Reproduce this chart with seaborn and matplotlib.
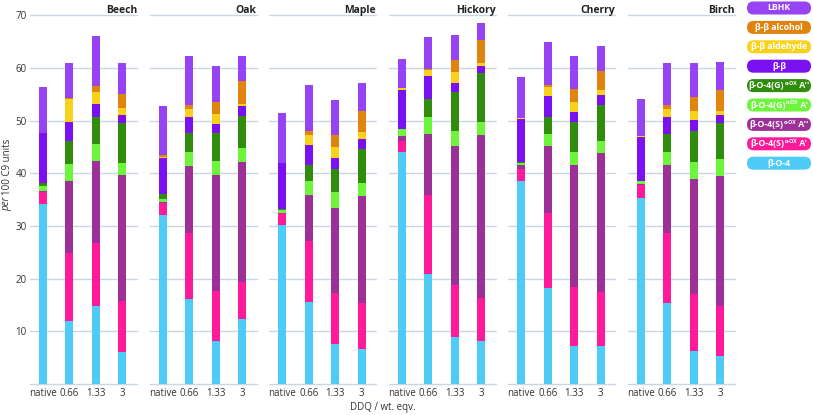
import pandas as pd
import seaborn as sns
import matplotlib.pyplot as plt
from matplotlib.patches import FancyBboxPatch

# =========================
#  Data (per 100 C9 units)
# =========================
woods = ["Beech", "Oak", "Maple", "Hickory", "Cherry", "Birch"]
ddq = ["native", "0.66", "1.33", "3"]

# legend label split into (text, superscript, suffix)
components = [
    ("β-O-4", "", ""),
    ("β-O-4(S)", "α-OX", " A'"),
    ("β-O-4(S)", "α-OX", " A''"),
    ("β-O-4(G)", "α-OX", " A'"),
    ("β-O-4(G)", "α-OX", " A''"),
    ("β-β", "", ""),
    ("β-β aldehyde", "", ""),
    ("β-β alcohol", "", ""),
    ("LBHK", "", ""),
]
colors = [
    "#4FCBF7", "#FF1A99", "#9C2F98", "#6CF53A", "#2F8C0C",
    "#7B10F3", "#F8D21A", "#E1840F", "#9643F4",
]
comp_names = ["".join(c) for c in components]

# one row per bar, columns in the order of `components`
beech = [
    [34.2, 2.3, 0.2, 0.8, 0.7, 9.5, 0.0, 0.0, 8.6],
    [12.0, 12.9, 13.7, 3.2, 4.3, 3.7, 4.3, 0.2, 6.6],
    [14.8, 11.9, 15.6, 3.3, 5.0, 2.5, 2.3, 1.2, 9.4],
    [6.1, 9.7, 23.8, 2.4, 7.5, 1.5, 1.4, 2.6, 5.9],
]
oak = [
    [32.1, 2.2, 0.2, 0.7, 0.8, 7.0, 0.1, 0.3, 9.4],
    [16.1, 12.5, 12.7, 2.8, 3.5, 3.0, 1.7, 0.6, 9.3],
    [8.2, 9.5, 22.0, 2.6, 5.3, 1.8, 1.9, 2.2, 6.9],
    [12.3, 7.1, 22.8, 2.7, 6.0, 1.9, 0.4, 4.3, 4.8],
]
maple = [
    [30.2, 2.2, 0.1, 0.6, 0.1, 8.7, 0.0, 0.0, 9.6],
    [15.5, 11.7, 8.6, 2.7, 3.0, 3.9, 1.9, 0.7, 8.8],
    [7.5, 9.7, 16.3, 2.9, 4.4, 2.2, 2.0, 2.3, 6.6],
    [6.6, 8.7, 20.3, 2.6, 6.4, 2.0, 1.2, 4.1, 5.2],
]
hickory = [
    [44.1, 2.1, 0.9, 1.4, 0.0, 7.4, 0.3, 0.0, 5.5],
    [20.9, 15.0, 11.5, 3.2, 3.5, 4.4, 1.2, 0.1, 6.0],
    [8.9, 9.9, 26.3, 2.9, 7.5, 1.7, 2.1, 2.2, 4.8],
    [8.2, 8.2, 30.8, 2.6, 9.2, 1.4, 0.6, 4.3, 3.2],
]
cherry = [
    [38.5, 2.4, 0.6, 0.4, 0.2, 8.2, 0.2, 0.0, 7.8],
    [18.3, 14.1, 12.7, 2.3, 3.2, 4.1, 1.6, 0.5, 8.1],
    [7.3, 11.2, 23.0, 2.6, 5.7, 1.9, 1.9, 2.4, 6.3],
    [7.3, 10.2, 26.3, 2.4, 6.7, 1.9, 1.0, 3.6, 4.8],
]
birch = [
    [35.4, 2.3, 0.3, 0.5, 0.0, 8.3, 0.3, 0.0, 7.1],
    [15.3, 13.4, 12.8, 2.6, 3.3, 3.2, 1.7, 0.7, 8.0],
    [6.3, 10.8, 21.8, 3.2, 5.9, 2.1, 1.8, 2.5, 6.6],
    [5.3, 9.6, 24.5, 3.3, 6.8, 1.6, 0.8, 4.0, 5.3],
]
wood_data = [beech, oak, maple, hickory, cherry, birch]

# long table with cumulative heights for stacking
rows = []
for wood, bars in zip(woods, wood_data):
    for lab, vals in zip(ddq, bars):
        cum = 0.0
        for comp, v in zip(comp_names, vals):
            cum += v
            rows.append({"wood": wood, "ddq": lab, "component": comp,
                         "value": v, "cum": cum})
df = pd.DataFrame(rows)

# =========================
#  Plot
# =========================
sns.set_theme(style="white")
plt.rcParams["font.family"] = ["Open Sans", "DejaVu Sans"]

W, H = 813, 415
fig = plt.figure(figsize=(W / 100, H / 100), dpi=100)

grid_col = "#C9D5E8"
txt_col = "#333333"
y_bot, y_top = 384, 15.3
panel_w = 107
panel_step = 119.6

for i, wood in enumerate(woods):
    x0 = 30 + i * panel_step
    ax = fig.add_axes([x0 / W, (H - y_bot) / H, panel_w / W, (y_bot - y_top) / H])
    sub = df[df["wood"] == wood]
    # draw from top layer down so lower segments overlay
    for comp, col in reversed(list(zip(comp_names, colors))):
        sns.barplot(
            data=sub[sub["component"] == comp],
            x="ddq", y="cum", order=ddq,
            color=col, saturation=1, width=0.3,
            errorbar=None, linewidth=0, ax=ax,
        )
    ax.set_xlim(-0.49, 3.55)
    ax.set_ylim(0, 70)
    ax.set_yticks(range(0, 71, 10))
    ax.set_axisbelow(True)
    ax.grid(axis="y", color=grid_col, linewidth=1.0)
    for gl in ax.get_ygridlines():
        gl.set_clip_on(False)
    for s in ax.spines.values():
        s.set_visible(False)
    ax.tick_params(axis="both", length=0, labelsize=7, colors=txt_col, pad=3)
    ax.set_xlabel("")
    ax.set_ylabel("")
    if i == 0:
        ax.set_yticklabels([""] + [str(v) for v in range(10, 71, 10)])
        ax.tick_params(axis="y", pad=2.5)
    else:
        ax.set_yticklabels([])
    ax.set_title(wood, loc="right", fontsize=7.5, fontweight="bold",
                 color="#222222", pad=2)

fig.text(383 / W, 1 - 407 / H, "DDQ / wt. eqv.", ha="center", va="center",
         fontsize=7, color=txt_col)

# y label: italic "per" followed by upright rest
renderer = fig.canvas.get_renderer()
t1 = fig.text(7 / W, 1 - 211 / H, "per", rotation=90, ha="center", va="bottom",
              fontsize=7, style="italic", color=txt_col)
bb = t1.get_window_extent(renderer)
fig.text(7 / W, (bb.y1 + 2) / H, "100 C9 units", rotation=90, ha="center",
         va="bottom", fontsize=7, color=txt_col)

# legend as rounded labelled boxes, top to bottom
lax = fig.add_axes([745 / W, 0, 68 / W, 1])
lax.set_xlim(0, 68)
lax.set_ylim(H, 0)
lax.axis("off")
fs, fs_sup = 6.3, 3.8
for k, (comp, col) in enumerate(reversed(list(zip(components, colors)))):
    cy = 8 + k * 19.4
    box = FancyBboxPatch((2, cy - 6.5), 64, 13,
                         boxstyle="round,pad=0,rounding_size=6.5",
                         facecolor=col, edgecolor="none")
    lax.add_patch(box)
    main, sup, suf = comp
    if not sup:
        lax.text(34, cy, main, ha="center", va="center", color="white",
                 fontsize=fs, fontweight="bold")
        continue
    # measure pieces in pixels, then lay them out centred in the box
    parts = [(main, fs, 0), (sup, fs_sup, -2.2), (suf, fs, 0)]
    widths = []
    for txt, size, _ in parts:
        tt = lax.text(0, 0, txt, fontsize=size, fontweight="bold")
        widths.append(tt.get_window_extent(renderer).width)
        tt.remove()
    x = 34 - sum(widths) / 2
    for (txt, size, dy), w in zip(parts, widths):
        lax.text(x, cy + dy, txt, ha="left", va="center", color="white",
                 fontsize=size, fontweight="bold")
        x += w

fig.savefig("out.png", dpi=100)
